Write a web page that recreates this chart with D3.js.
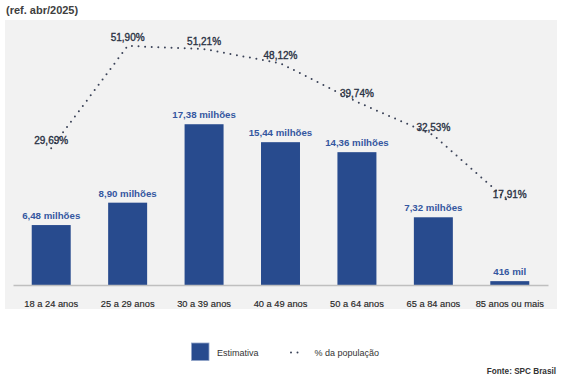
<!DOCTYPE html>
<html><head><meta charset="utf-8">
<script src="https://cdn.jsdelivr.net/npm/d3@7"></script>
<style>
html,body{margin:0;padding:0;background:#fff;}
svg{display:block;font-family:"Liberation Sans",Arial,sans-serif;}
</style></head>
<body><svg id="c" width="566" height="381"></svg>
<script>
const categories = ["18 a 24 anos","25 a 29 anos","30 a 39 anos","40 a 49 anos","50 a 64 anos","65 a 84 anos","85 anos ou mais"];
const estimativa = [6.48, 8.90, 17.38, 15.44, 14.36, 7.32, 0.416];
const estimativaLabels = ["6,48 milhões","8,90 milhões","17,38 milhões","15,44 milhões","14,36 milhões","7,32 milhões","416 mil"];
const populacao = [29.69, 51.90, 51.21, 48.12, 39.74, 32.53, 17.91];
const populacaoLabels = ["29,69%","51,90%","51,21%","48,12%","39,74%","32,53%","17,91%"];
const title = "(ref. abr/2025)";
const source = "Fonte: SPC Brasil";
const legendNames = ["Estimativa","% da população"];

const svg = d3.select("#c");
const barColor = "#284b8e";

// panel
svg.append("rect").attr("x",5).attr("y",20).attr("width",552).attr("height",289).attr("fill","#f2f2f2");

svg.append("text").attr("x",6).attr("y",14).attr("font-size",11).attr("font-weight","bold")
  .attr("fill","#404040").text(title);

const x = d3.scaleBand().domain(categories).range([13,548]).paddingInner(0.49).paddingOuter(0.245);
const y = d3.scaleLinear().domain([0,20]).range([285,100]);
const y2 = d3.scaleLinear().domain([0,60]).range([285,8.6]);

// bars
svg.selectAll("rect.bar").data(categories).join("rect").attr("class","bar")
  .attr("x",d=>x(d)).attr("width",x.bandwidth())
  .attr("y",(d,i)=>y(estimativa[i])).attr("height",(d,i)=>y(0)-y(estimativa[i]))
  .attr("fill",barColor);

// axis
const ax = svg.append("g").attr("transform","translate(0,285)")
  .call(d3.axisBottom(x).tickSize(0).tickSizeOuter(0).tickPadding(15));
ax.select(".domain").attr("stroke","#bfbfbf").attr("stroke-width",1.3);
ax.selectAll("text").attr("font-size",9.3).attr("fill","#262626")
  .attr("stroke","#262626").attr("stroke-width",0.15)
  .attr("font-family","Liberation Sans, Arial, sans-serif");

// bar labels
svg.selectAll("text.bl").data(categories).join("text").attr("class","bl")
  .attr("x",d=>x(d)+x.bandwidth()/2).attr("y",(d,i)=>y(estimativa[i])-6)
  .attr("text-anchor","middle").attr("font-size",9.7).attr("font-weight","bold")
  .attr("fill","#3557a0").text((d,i)=>estimativaLabels[i]);

// line
const line = d3.line().x((d,i)=>x(categories[i])+x.bandwidth()/2).y(d=>y2(d));
svg.append("path").datum(populacao).attr("d",line).attr("fill","none")
  .attr("stroke","#3b4358").attr("stroke-width",2).attr("stroke-linecap","round")
  .attr("stroke-dasharray","0,6.6");

svg.selectAll("text.pl").data(categories).join("text").attr("class","pl")
  .attr("x",d=>x(d)+x.bandwidth()/2).attr("y",(d,i)=>y2(populacao[i])-4.5)
  .attr("text-anchor","middle").attr("font-size",10)
  .attr("fill","#2b3244").attr("stroke","#2b3244").attr("stroke-width",0.35)
  .text((d,i)=>populacaoLabels[i]);

// legend
svg.append("rect").attr("x",191.5).attr("y",343).attr("width",17.5).attr("height",17.5)
  .attr("fill",barColor).attr("stroke","#8fa3c8").attr("stroke-width",0.8);
svg.append("text").attr("x",217).attr("y",355.5).attr("font-size",9).attr("fill","#333").text(legendNames[0]);
svg.append("line").attr("x1",291).attr("x2",304).attr("y1",352.5).attr("y2",352.5)
  .attr("stroke","#3b4358").attr("stroke-width",2).attr("stroke-linecap","round").attr("stroke-dasharray","0,6.5");
svg.append("text").attr("x",314.5).attr("y",355.5).attr("font-size",9).attr("fill","#333").text(legendNames[1]);

svg.append("text").attr("x",556).attr("y",373.5).attr("text-anchor","end").attr("font-size",8.2)
  .attr("font-weight","bold").attr("fill","#333").text(source);
</script></body></html>
